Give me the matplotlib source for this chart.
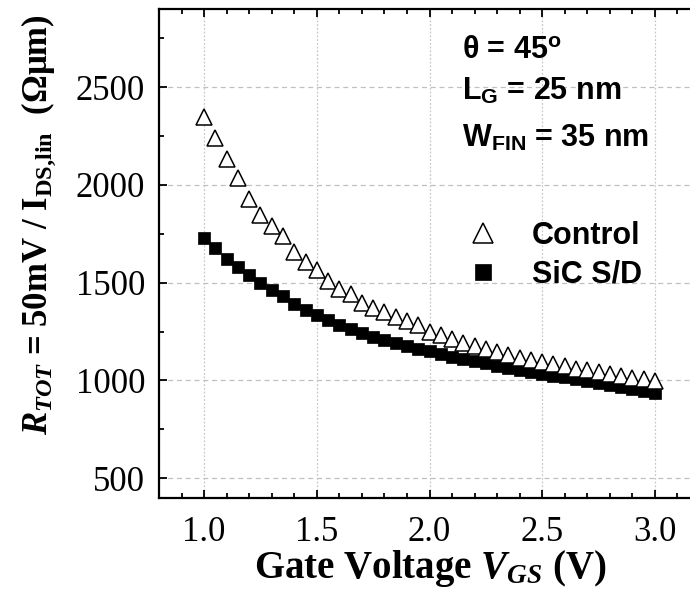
import numpy as np
import matplotlib
matplotlib.use("Agg")
import matplotlib.pyplot as plt
from matplotlib.ticker import MultipleLocator

# ===== 数据 =====
vgs = [1.00, 1.05, 1.10, 1.15, 1.20, 1.25, 1.30, 1.35, 1.40, 1.45,
       1.50, 1.55, 1.60, 1.65, 1.70, 1.75, 1.80, 1.85, 1.90, 1.95,
       2.00, 2.05, 2.10, 2.15, 2.20, 2.25, 2.30, 2.35, 2.40, 2.45,
       2.50, 2.55, 2.60, 2.65, 2.70, 2.75, 2.80, 2.85, 2.90, 2.95, 3.00]
r_control = [2345, 2238, 2133, 2036, 1929, 1847, 1792, 1738, 1656, 1605,
             1563, 1508, 1466, 1440, 1397, 1372, 1350, 1325, 1306, 1282,
             1250, 1231, 1213, 1193, 1176, 1160, 1143, 1132, 1117, 1104,
             1095, 1082, 1074, 1060, 1053, 1041, 1032, 1022, 1013, 1005, 996]
r_sic = [1730, 1677, 1622, 1580, 1541, 1500, 1461, 1430, 1393, 1362,
         1333, 1307, 1284, 1262, 1242, 1224, 1207, 1190, 1175, 1161,
         1148, 1135, 1122, 1110, 1098, 1087, 1076, 1065, 1055, 1045,
         1035, 1025, 1015, 1005, 995, 986, 977, 967, 958, 948, 938]
series_labels = ["Control", "SiC S/D"]
x_ticks = [1.0, 1.5, 2.0, 2.5, 3.0]
y_ticks = [500, 1000, 1500, 2000, 2500]
notes = [r"θ = 45$^{\mathsf{o}}$", r"L$_{\mathsf{G}}$ = 25 nm", r"W$_{\mathsf{FIN}}$ = 35 nm"]

# ===== 字体 =====
plt.rcParams["font.family"] = ["Liberation Serif", "DejaVu Serif"]
plt.rcParams["mathtext.fontset"] = "custom"
plt.rcParams["mathtext.rm"] = "Liberation Serif:bold"
plt.rcParams["mathtext.bf"] = "Liberation Serif:bold"
plt.rcParams["mathtext.it"] = "Liberation Serif:italic:bold"
plt.rcParams["mathtext.sf"] = "Liberation Sans:bold"
plt.rcParams["mathtext.default"] = "rm"

fig = plt.figure(figsize=(6.9, 5.92), dpi=100)
# 右边框在原图中被裁掉，所以坐标轴稍微超出画布
ax = fig.add_axes([159/690, 94.3/592, 541/690, 488.7/592])

sq, = ax.plot(vgs, r_sic, ls="none", marker="s", ms=8.8, mfc="black", mec="black",
              mew=0.5, label=series_labels[1], zorder=3)
tri, = ax.plot(vgs, r_control, ls="none", marker="^", ms=11, mfc="white", mec="black",
               mew=1.1, label=series_labels[0], zorder=4)

ax.set_xlim(0.8, 3.2)
ax.set_ylim(400, 2900)
ax.set_xticks(x_ticks)
ax.set_xticklabels(["%.1f" % v for v in x_ticks])
ax.set_yticks(y_ticks)
ax.xaxis.set_minor_locator(MultipleLocator(0.1))
ax.yaxis.set_minor_locator(MultipleLocator(250))
ax.tick_params(which="both", direction="in", top=True, right=False, width=1.3,
               labelsize=25)
ax.tick_params(which="major", length=6)
ax.tick_params(which="minor", length=3.5)
ax.tick_params(axis="x", pad=13)
ax.tick_params(axis="y", pad=10)
for s in ax.spines.values():
    s.set_linewidth(1.6)
ax.spines["right"].set_visible(False)

ax.xaxis.grid(True, which="major", color="#c8c8c8", lw=0.9, ls=(0, (1.5, 1.5)))
ax.yaxis.grid(True, which="major", color="#c0c0c0", lw=0.9, ls=(0, (4, 3)))
ax.set_axisbelow(True)

ax.set_xlabel(r"Gate Voltage $\mathit{V}_{\mathit{GS}}$ (V)", fontsize=28, fontweight="bold")
ax.set_ylabel(r"$\mathit{R}_{\mathit{TOT}}$ = 50mV / I$_{\mathrm{DS{,}lin}}$  (Ωμm)",
              fontsize=25, fontweight="bold")
ax.xaxis.set_label_coords(0.501, -0.103)
ax.yaxis.set_label_coords(-0.187, 0.558)

# 参数说明
for txt, yb in zip(notes, [58, 100, 147]):
    fig.text(462/690, 1 - yb/592, txt, family="Liberation Sans", weight="bold",
             fontsize=22, va="baseline", ha="left")

ax.legend(handles=[tri, sq], labels=series_labels, frameon=False,
          prop={"family": "Liberation Sans", "weight": "bold", "size": 22},
          loc="upper left", bbox_to_anchor=(468/690, 1 - 220.5/592),
          bbox_transform=fig.transFigure, borderpad=0, borderaxespad=0,
          handlelength=1.0, handletextpad=1.09, labelspacing=0.3, markerscale=1.3)

fig.savefig("out.png", dpi=100)
